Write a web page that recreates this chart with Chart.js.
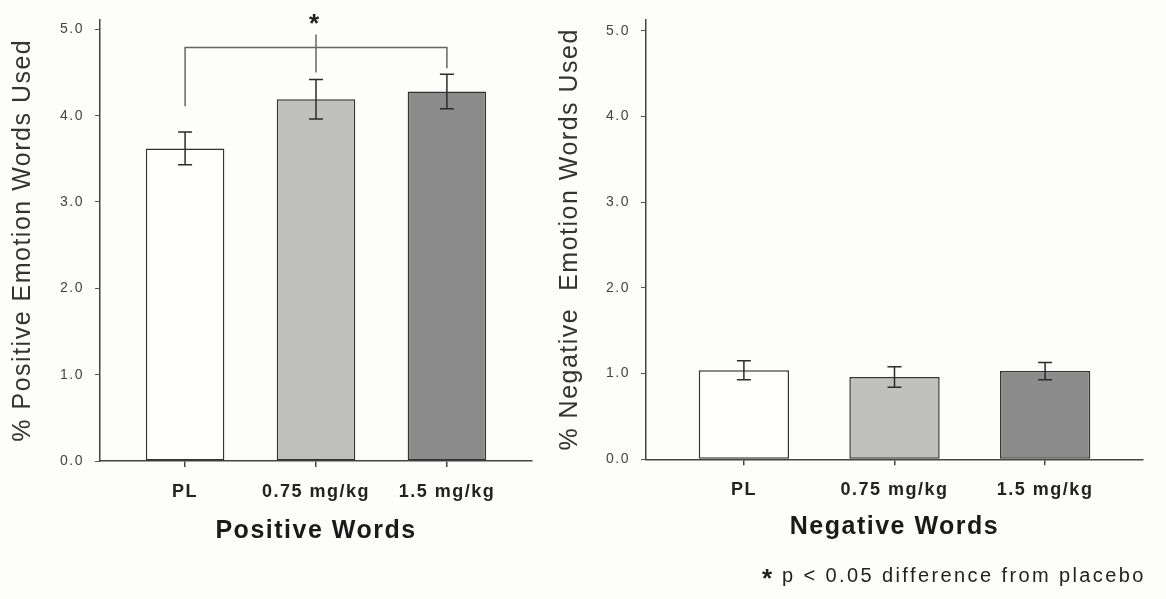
<!DOCTYPE html>
<html>
<head>
<meta charset="utf-8">
<script src="https://cdn.jsdelivr.net/npm/chart.js@4.4.1/dist/chart.umd.min.js"></script>
<style>
  html, body { margin: 0; padding: 0; background: #fdfdfa; }
  #wrap { position: relative; width: 1166px; height: 599px; overflow: hidden; }
  canvas { position: absolute; top: 0; }
  #positive { left: 0; }
  #negative { left: 556px; }
</style>
</head>
<body>
<div id="wrap">
  <canvas id="positive" width="556" height="599"></canvas>
  <canvas id="negative" width="610" height="599"></canvas>
</div>
<script>
const categories = ['PL', '0.75 mg/kg', '1.5 mg/kg'];
const positiveMeans = [3.62, 4.19, 4.28];
const positiveErrors = [0.19, 0.23, 0.20];
const negativeMeans = [1.04, 0.96, 1.03];
const negativeErrors = [0.11, 0.12, 0.10];
const barColors = ['#fefefc', '#c0c0bc', '#8c8c8c'];

// significance bracket over the positive panel (y values)
const bracketLevel = 4.79;
const bracketLegBottoms = [4.11, 4.50, 4.55];
const bracketMiddleTop = 4.94;
const starLevel = 5.12;

const FONT = '"Liberation Sans", Arial, Helvetica, sans-serif';

// the original figure uses slightly letter-spaced text
const spacing = {
  id: 'spacing',
  beforeUpdate(chart) { chart.ctx.letterSpacing = '1.5px'; },
  beforeDraw(chart) { chart.ctx.letterSpacing = '1.5px'; }
};

const errorBars = {
  id: 'errorBars',
  afterDatasetsDraw(chart, args, opts) {
    const { ctx, scales: { x, y } } = chart;
    const means = chart.data.datasets[0].data;
    ctx.save();
    ctx.strokeStyle = '#2b2b2b';
    ctx.lineWidth = 1.5;
    opts.errors.forEach((e, i) => {
      const px = x.getPixelForValue(means[i].x);
      const top = y.getPixelForValue(means[i].y + e);
      const bot = y.getPixelForValue(means[i].y - e);
      ctx.beginPath();
      ctx.moveTo(px, top); ctx.lineTo(px, bot);
      ctx.moveTo(px - 7, top); ctx.lineTo(px + 7, top);
      ctx.moveTo(px - 7, bot); ctx.lineTo(px + 7, bot);
      ctx.stroke();
    });
    ctx.restore();
  }
};

const bracket = {
  id: 'bracket',
  afterDatasetsDraw(chart) {
    const { ctx, scales: { x, y } } = chart;
    const xs = categories.map((c, i) => x.getPixelForValue(i + 1));
    const yl = y.getPixelForValue(bracketLevel);
    ctx.save();
    ctx.strokeStyle = '#666';
    ctx.lineWidth = 1.5;
    ctx.beginPath();
    ctx.moveTo(xs[0], y.getPixelForValue(bracketLegBottoms[0]));
    ctx.lineTo(xs[0], yl);
    ctx.lineTo(xs[2], yl);
    ctx.lineTo(xs[2], y.getPixelForValue(bracketLegBottoms[2]));
    ctx.moveTo(xs[1], y.getPixelForValue(bracketMiddleTop));
    ctx.lineTo(xs[1], y.getPixelForValue(bracketLegBottoms[1]));
    ctx.stroke();

    ctx.letterSpacing = '0px';
    ctx.fillStyle = '#222';
    ctx.font = 'bold 26px ' + FONT;
    ctx.textAlign = 'center';
    ctx.textBaseline = 'alphabetic';
    const m = ctx.measureText('*');
    const cy = y.getPixelForValue(starLevel);
    ctx.fillText('*', xs[1] - 2, cy + (m.actualBoundingBoxAscent - m.actualBoundingBoxDescent) / 2);
    ctx.restore();
  }
};

const footnote = {
  id: 'footnote',
  afterDraw(chart) {
    const ctx = chart.ctx;
    ctx.save();
    ctx.fillStyle = '#222';
    ctx.textBaseline = 'alphabetic';
    ctx.textAlign = 'left';
    ctx.letterSpacing = '0px';
    ctx.font = 'bold 26px ' + FONT;
    const m = ctx.measureText('*');
    // star sits raised, its top level with the tops of the tall letters
    ctx.fillText('*', 206, 569 + m.actualBoundingBoxAscent);
    ctx.letterSpacing = '2.4px';
    ctx.font = '20px ' + FONT;
    ctx.fillText('p < 0.05 difference from placebo', 226, 582);
    ctx.restore();
  }
};

function makeChart(id, cfg) {
  return new Chart(document.getElementById(id), {
    type: 'bar',
    data: {
      datasets: [{
        data: cfg.means.map((v, i) => ({ x: i + 1, y: v })),
        backgroundColor: barColors,
        borderColor: '#333',
        borderWidth: 1.5,
        borderSkipped: false,
        barPercentage: 0.6,
        categoryPercentage: 1
      }]
    },
    plugins: [spacing, errorBars].concat(cfg.extra),
    options: {
      responsive: false,
      animation: false,
      layout: { padding: cfg.padding },
      plugins: {
        legend: { display: false },
        tooltip: { enabled: false },
        errorBars: { errors: cfg.errors }
      },
      scales: {
        x: {
          type: 'linear',
          min: 0.35,
          max: 3.65,
          offset: false,
          afterBuildTicks: s => { s.ticks = categories.map((c, i) => ({ value: i + 1 })); },
          afterFit: s => { s.height = cfg.xHeight; },
          grid: { offset: false, drawOnChartArea: false, drawTicks: true, tickLength: 6, color: '#444', lineWidth: 1.5 },
          border: { color: '#444', width: 1.5 },
          ticks: {
            autoSkip: false,
            maxRotation: 0,
            padding: 14,
            color: '#222',
            font: { family: FONT, size: 18, weight: 'bold' },
            callback: (v, i) => categories[i]
          },
          title: {
            display: true,
            text: cfg.xTitle,
            color: '#1a1a1a',
            font: { family: FONT, size: 25, weight: 'bold' },
            padding: { top: 0, bottom: cfg.xTitlePad }
          }
        },
        y: {
          min: 0,
          max: cfg.yMax,
          afterFit: s => { s.width = cfg.yWidth; },
          grid: { drawOnChartArea: false, drawTicks: true, tickLength: 5, color: '#555', lineWidth: 1 },
          border: { color: '#444', width: 1.5 },
          ticks: {
            stepSize: 1,
            includeBounds: false,
            padding: 11,
            color: '#444',
            font: { family: FONT, size: 14 },
            callback: v => v.toFixed(1)
          },
          title: {
            display: true,
            text: cfg.yTitle,
            color: '#333',
            font: { family: FONT, size: 25, lineHeight: 1 },
            padding: { top: cfg.yTitlePad, bottom: 0 }
          }
        }
      }
    }
  });
}

makeChart('positive', {
  means: positiveMeans,
  errors: positiveErrors,
  yMax: 5.115,
  yWidth: 100,
  xHeight: 138,
  xTitle: 'Positive Words',
  xTitlePad: 53,
  yTitle: '% Positive Emotion Words Used',
  yTitlePad: 11,
  padding: { top: 15, right: 24, bottom: 0, left: 0 },
  extra: [bracket]
});

makeChart('negative', {
  means: negativeMeans,
  errors: negativeErrors,
  yMax: 5.135,
  yWidth: 90,
  xHeight: 139.7,
  xTitle: 'Negative Words',
  xTitlePad: 56.4,
  yTitle: '% Negative  Emotion Words Used',
  yTitlePad: 1.5,
  padding: { top: 13.3, right: 23, bottom: 0, left: 0 },
  extra: [footnote]
});
</script>
</body>
</html>
